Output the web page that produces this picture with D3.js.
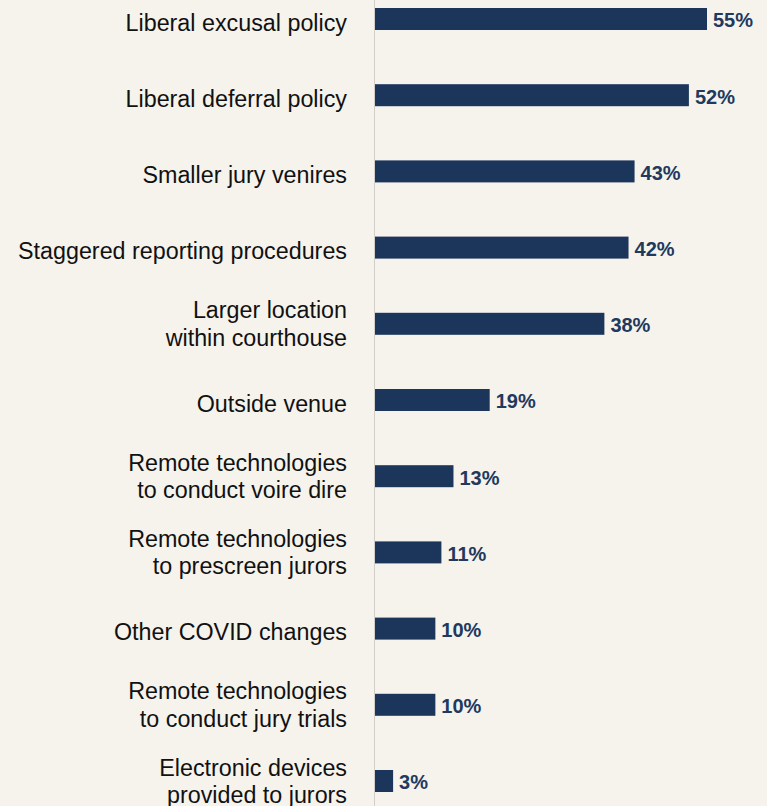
<!DOCTYPE html>
<html>
<head>
<meta charset="utf-8">
<title>COVID jury changes</title>
<style>
    body {
        margin: 0;
        background: #f6f3ed;
    }
    svg {
        display: block;
        font-family: "Liberation Sans", Arial, sans-serif;
    }
</style>
</head>
<body>
<svg width="767" height="806"></svg>
<script src="https://cdn.jsdelivr.net/npm/d3@7"></script>
<script>
    // categories, top to bottom (\n = line break in the label)
    var categories = [
        "Liberal excusal policy",
        "Liberal deferral policy",
        "Smaller jury venires",
        "Staggered reporting procedures",
        "Larger location\nwithin courthouse",
        "Outside venue",
        "Remote technologies\nto conduct voire dire",
        "Remote technologies\nto prescreen jurors",
        "Other COVID changes",
        "Remote technologies\nto conduct jury trials",
        "Electronic devices\nprovided to jurors"
    ];
    var values = [55, 52, 43, 42, 38, 19, 13, 11, 10, 10, 3];

    var svg = d3.select("svg"),
        width = +svg.attr("width"),
        height = +svg.attr("height");

    var left = 375,
        barH = 22;

    var x = d3.scaleLinear()
        .domain([0, 55])
        .range([0, 332]);

    var y = d3.scalePoint()
        .domain(categories)
        .range([19, 781]);

    // background
    svg.append("rect")
        .attr("width", width)
        .attr("height", height)
        .attr("fill", "#f6f3ed");

    // vertical axis line
    svg.append("line")
        .attr("x1", left - 0.5)
        .attr("x2", left - 0.5)
        .attr("y1", 0)
        .attr("y2", height)
        .attr("stroke", "#d2cfca")
        .attr("stroke-width", 1);

    var rows = svg.selectAll("g.row")
        .data(categories)
        .enter().append("g")
        .attr("class", "row")
        .attr("transform", function(d) { return "translate(0," + y(d) + ")"; });

    rows.append("rect")
        .attr("x", left)
        .attr("y", -barH / 2)
        .attr("width", function(d, i) { return x(values[i]); })
        .attr("height", barH)
        .attr("fill", "#1c355b");

    rows.append("text")
        .attr("x", function(d, i) { return left + x(values[i]) + 6; })
        .attr("y", 8.3)
        .attr("fill", "#22395e")
        .attr("font-size", 20)
        .attr("font-weight", "bold")
        .text(function(d, i) { return values[i] + "%"; });

    // category labels, possibly two lines
    var lineH = 27.6;
    rows.append("text")
        .attr("x", 347)
        .attr("text-anchor", "end")
        .attr("fill", "#111")
        .attr("font-size", 23.3)
        .each(function(d) {
            var lines = d.split("\n");
            var t = d3.select(this);
            var base = lines.length == 1 ? 11.7 : 8.3;
            lines.forEach(function(l, j) {
                t.append("tspan")
                    .attr("x", 347)
                    .attr("y", base + (j - (lines.length - 1) / 2) * lineH)
                    .text(l);
            });
        });
</script>
</body>
</html>
